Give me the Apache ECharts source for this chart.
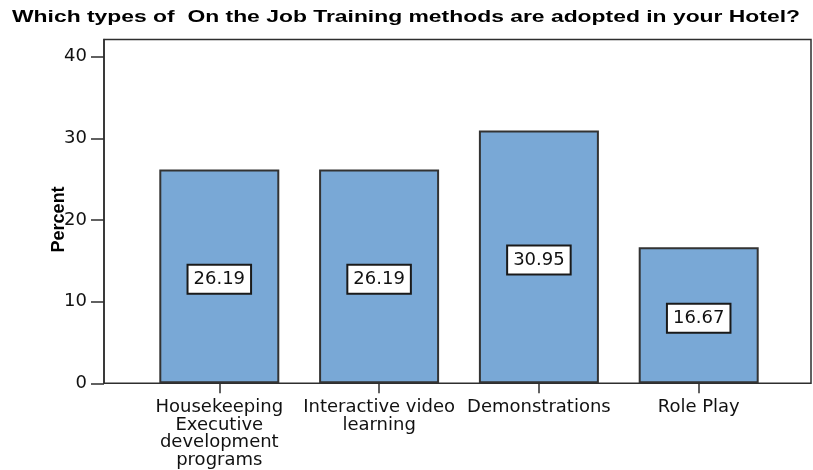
<!DOCTYPE html>
<html>
<head>
<meta charset="utf-8">
<title>On the Job Training methods</title>
<script src="https://cdn.jsdelivr.net/npm/echarts@6/dist/echarts.min.js"></script>
<style>
  html, body { margin: 0; padding: 0; background: #fff; }
  #chart { width: 813px; height: 470px; }
</style>
</head>
<body>
<div id="chart"></div>
<script>
// Survey question and answers
const titleText = 'Which types of  On the Job Training methods are adopted in your Hotel?';
const categories = [
  'Housekeeping\nExecutive\ndevelopment\nprograms',
  'Interactive video\nlearning',
  'Demonstrations',
  'Role Play'
];
const percents = [26.19, 26.19, 30.95, 16.67];
const yTicks = [0, 10, 20, 30, 40];
const yMax = 42.1;

const lineColor = '#2e2e2e';
const tickFont = 'DejaVu Sans';

// Stretch the heading horizontally so it spans the full chart width
const titleFont = 'bold 17px "Liberation Sans"';
const titleWidth = 788;
function measure(text, font) {
  const ctx = document.createElement('canvas').getContext('2d');
  ctx.font = font;
  return ctx.measureText(text).width;
}
const titleScale = titleWidth / measure(titleText, titleFont);

const chart = echarts.init(document.getElementById('chart'), null, { renderer: 'canvas' });

chart.setOption({
  animation: false,
  backgroundColor: '#ffffff',
  graphic: [{
    type: 'text',
    left: 12,
    top: 9,
    scaleX: titleScale,
    originX: 0,
    style: {
      text: titleText,
      font: titleFont,
      fill: '#000'
    }
  }],
  grid: [
    // outer frame carrying the value axis
    { left: 104, right: 2, top: 39.5, bottom: 86.7, show: true, borderColor: lineColor, borderWidth: 1.5, backgroundColor: 'transparent' },
    // inner area holding the category bands
    { left: 139.4, right: 34.4, top: 39.5, bottom: 86.7 }
  ],
  xAxis: [
    {
      gridIndex: 1,
      type: 'category',
      data: categories,
      axisLine: { show: false },
      axisTick: { show: true, alignWithLabel: true, length: 10, lineStyle: { color: lineColor, width: 1.5 } },
      axisLabel: {
        interval: 0,
        margin: 15,
        fontFamily: tickFont,
        fontSize: 18,
        lineHeight: 17.7,
        color: '#111'
      },
      splitLine: { show: false }
    },
    { gridIndex: 0, type: 'category', data: categories, show: false }
  ],
  yAxis: [
    {
      gridIndex: 0,
      type: 'value',
      min: 0,
      max: yMax,
      name: 'Percent',
      nameLocation: 'middle',
      nameRotate: 90,
      nameGap: 36,
      nameMoveOverlap: false,
      nameTextStyle: { fontFamily: 'Liberation Sans', fontWeight: 'bold', fontSize: 18, color: '#000', padding: [0, 16, 0, 0] },
      axisLine: { show: true, lineStyle: { color: lineColor, width: 1.5 } },
      axisTick: { show: true, length: 13, customValues: yTicks, lineStyle: { color: lineColor, width: 1.5 } },
      axisLabel: { margin: 17, customValues: yTicks, fontFamily: tickFont, fontSize: 18, color: '#111' },
      splitLine: { show: false }
    },
    { gridIndex: 1, type: 'value', min: 0, max: yMax, show: false, splitLine: { show: false } }
  ],
  series: [{
    type: 'bar',
    xAxisIndex: 0,
    yAxisIndex: 1,
    data: percents,
    barWidth: 120,
    itemStyle: { color: '#79a8d6', borderColor: '#333', borderWidth: 2 },
    label: {
      show: true,
      position: 'inside',
      offset: [0, 3],
      formatter: p => p.value.toFixed(2),
      fontFamily: tickFont,
      fontSize: 18,
      lineHeight: 18,
      color: '#111',
      backgroundColor: '#fff',
      borderColor: '#1a1a1a',
      borderWidth: 2,
      padding: [5, 5, 4, 5]
    }
  }]
});
</script>
</body>
</html>
